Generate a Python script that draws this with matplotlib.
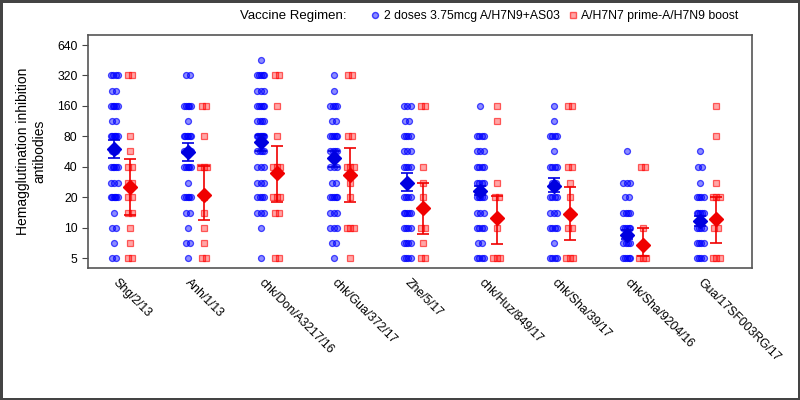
import numpy as np
import matplotlib
matplotlib.use("Agg")
import matplotlib.pyplot as plt
from matplotlib.lines import Line2D

plt.rcParams['font.family'] = ['Liberation Sans', 'DejaVu Sans']

strains = ['Shg/2/13', 'Anh/1/13', 'chk/Don/A3217/16', 'chk/Gua/372/17', 'Zhe/5/17',
           'chk/Huz/849/17', 'chk/Sha/39/17', 'chk/Sha/9204/16', 'Gua/17SF003RG/17']
levels = [5, 7, 10, 14, 20, 28, 40, 57, 80, 113, 160, 226, 320, 453]
yticks = [5, 10, 20, 40, 80, 160, 320, 640]

# number of subjects at each titer level (same order as levels)
blue_counts = [
    [2, 1, 2, 1, 6, 3, 5, 2, 6, 2, 5, 2, 4, 0],
    [1, 2, 1, 2, 5, 1, 5, 3, 6, 1, 5, 0, 2, 0],
    [1, 0, 1, 3, 4, 3, 3, 4, 7, 4, 5, 3, 5, 1],
    [1, 2, 3, 3, 5, 2, 3, 4, 5, 2, 4, 1, 1, 0],
    [4, 4, 4, 5, 4, 2, 4, 3, 4, 2, 3, 0, 0, 0],
    [4, 2, 4, 3, 5, 4, 4, 3, 4, 0, 1, 0, 0, 0],
    [4, 1, 4, 3, 4, 2, 4, 1, 4, 1, 1, 0, 0, 0],
    [5, 4, 5, 4, 2, 3, 0, 1, 0, 0, 0, 0, 0, 0],
    [4, 4, 4, 5, 4, 1, 2, 1, 0, 0, 0, 0, 0, 0],
]
red_counts = [
    [2, 1, 1, 2, 2, 2, 2, 1, 1, 0, 0, 0, 2, 0],
    [2, 1, 1, 1, 1, 0, 3, 0, 1, 0, 2, 0, 0, 0],
    [2, 0, 0, 2, 3, 0, 3, 0, 1, 0, 1, 0, 2, 0],
    [1, 0, 3, 0, 1, 1, 3, 0, 2, 0, 0, 0, 2, 0],
    [2, 1, 2, 0, 1, 1, 1, 0, 0, 0, 2, 0, 0, 0],
    [3, 0, 1, 0, 2, 1, 0, 0, 0, 1, 1, 0, 0, 0],
    [3, 0, 2, 0, 1, 1, 2, 0, 0, 0, 2, 0, 0, 0],
    [3, 0, 1, 0, 0, 0, 2, 0, 0, 0, 0, 0, 0, 0],
    [3, 0, 2, 0, 3, 1, 0, 0, 1, 0, 1, 0, 0, 0],
]

# geometric mean titers with 95% CI
blue_gmt = [60, 56, 70, 49, 28, 23, 25.7, 8.5, 11.7]
blue_lo = [49, 46, 58, 40, 23, 21, 22.5, 7.7, 10.5]
blue_hi = [74, 69, 82, 58, 35, 26, 31, 9.5, 13]
red_gmt = [25.5, 21, 35, 33, 15.5, 12.4, 13.7, 6.8, 12.2]
red_lo = [13.4, 12, 18, 18, 8.7, 6.9, 7.5, 5.3, 7]
red_hi = [48, 41, 64, 61, 28, 20.4, 25, 10, 20]

px = 1 / 73.2  # one pixel in x data units
off = 0.11
blue_face, blue_edge = (0, 0, 1, 0.45), (0, 0, 1, 0.7)
red_face, red_edge = (1, 0, 0, 0.35), (1, 0, 0, 0.6)

fig = plt.figure(figsize=(8, 4), dpi=100)
ax = fig.add_axes([0.11, 0.33, 0.83, 0.5825])


def spread(base, counts):
    xs, ys = [], []
    for lev, n in zip(levels, counts):
        if n == 0:
            continue
        step = min(4.0, 7.0 / max(n - 1, 1))
        for j in range(n):
            xs.append(base + (j - (n - 1) / 2) * step * px)
            ys.append(lev)
    return xs, ys


for i in range(len(strains)):
    bx, by = spread(i - off, blue_counts[i])
    ax.plot(bx, by, 'o', ms=4.3, mfc=blue_face, mec=blue_edge, mew=0.9, ls='none')
    rx, ry = spread(i + off, red_counts[i])
    ax.plot(rx, ry, 's', ms=4.3, mfc=red_face, mec=red_edge, mew=0.9, ls='none')

xb = np.arange(len(strains)) - off
xr = np.arange(len(strains)) + off
ax.errorbar(xb, blue_gmt, yerr=[np.array(blue_gmt) - np.array(blue_lo), np.array(blue_hi) - np.array(blue_gmt)],
            fmt='D', color='#0000e0', ms=7, capsize=4, elinewidth=1.2, capthick=1.2, zorder=5)
ax.errorbar(xr, red_gmt, yerr=[np.array(red_gmt) - np.array(red_lo), np.array(red_hi) - np.array(red_gmt)],
            fmt='D', color='#f00000', ms=7, capsize=4, elinewidth=1.2, capthick=1.2, zorder=5)

ax.set_yscale('log', base=2)
ax.set_ylim(4.0, 804)
ax.set_yticks(yticks)
ax.set_yticklabels([str(v) for v in yticks])
ax.minorticks_off()
ax.set_xlim(-0.47, 8.6)
# labels start a little left of each group centre (ticks themselves are hidden)
ax.set_xticks(np.arange(len(strains)) - 4 * px)
ax.set_xticklabels(strains, rotation=-45, ha='left', va='top', rotation_mode='anchor', fontsize=8.8)
ax.tick_params(axis='x', length=0, pad=6)
ax.tick_params(axis='y', direction='out', length=4, labelsize=8.8, color='#444444')
for s in ax.spines.values():
    s.set_color('#555555')
    s.set_linewidth(1.2)

ax.set_ylabel('Hemagglutination inhibition\nantibodies', fontsize=10, labelpad=8)

fig.text(0.30, 0.96, 'Vaccine Regimen:', fontsize=9.5, va='center', ha='left')
handles = [
    Line2D([], [], marker='o', ls='none', ms=4.3, mfc=blue_face, mec=blue_edge),
    Line2D([], [], marker='s', ls='none', ms=4.3, mfc=red_face, mec=red_edge),
]
fig.legend(handles, ['2 doses 3.75mcg A/H7N9+AS03', 'A/H7N7 prime-A/H7N9 boost'],
           loc='center left', bbox_to_anchor=(0.455, 0.96), ncol=2, frameon=False,
           fontsize=8.8, handlelength=0.8, handletextpad=0.3, columnspacing=0.7, borderpad=0)

fig.patch.set_edgecolor('#444444')
fig.patch.set_linewidth(2.5)

fig.savefig('out.png', dpi=100, edgecolor=fig.get_edgecolor())
